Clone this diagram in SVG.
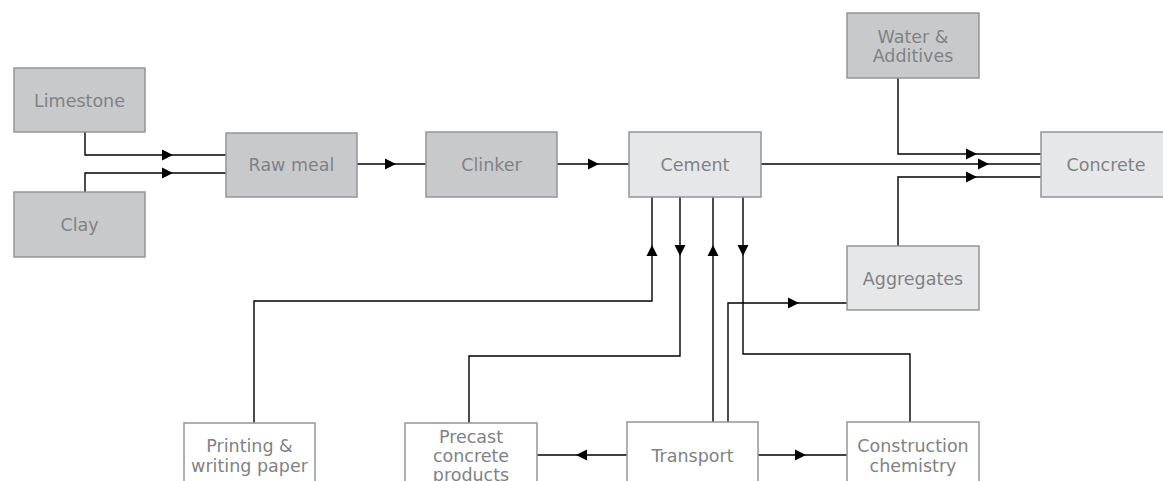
<svg xmlns="http://www.w3.org/2000/svg" xmlns:xlink="http://www.w3.org/1999/xlink" width="1163" height="481" viewBox="0 0 1163 481">
  <style>
    .box rect { stroke: #939598; stroke-width: 1.5; }
    .raw rect { fill: #c8c9cb; }
    .mid rect { fill: #e6e7e8; }
    .out rect { fill: #ffffff; }
    text { font-family: "DejaVu Sans", "Liberation Sans", sans-serif; font-size: 17.5px; fill: #808285; text-anchor: middle; }
    .wire { fill: none; stroke: #000; stroke-width: 1.4; }
    .head { fill: #000; }
  </style>
  <defs>
    <!-- arrowhead pointing right, tip at origin -->
    <path id="ah" class="head" d="M0,0 L-11,-5.5 L-11,5.5 Z"/>
  </defs>
  <rect width="1163" height="481" fill="#ffffff"/>

  <g id="connectors">
    <path class="wire" d="M85,132 V155 H226"/>
    <path class="wire" d="M85,192 V173 H226"/>
    <path class="wire" d="M357,164 H426"/>
    <path class="wire" d="M557,164 H629"/>
    <path class="wire" d="M761,164 H1041"/>
    <path class="wire" d="M898,78 V154 H1041"/>
    <path class="wire" d="M898,246 V177 H1041"/>
    <path class="wire" d="M254,423 V301 H652 V197"/>
    <path class="wire" d="M680,197 V356 H469 V423"/>
    <path class="wire" d="M713,422 V197"/>
    <path class="wire" d="M743,197 V354 H910 V422"/>
    <path class="wire" d="M728,422 V303 H847"/>
    <path class="wire" d="M627,455 H537"/>
    <path class="wire" d="M758,455 H847"/>
    <use xlink:href="#ah" transform="translate(173,155)"/>
    <use xlink:href="#ah" transform="translate(173,173)"/>
    <use xlink:href="#ah" transform="translate(396,164)"/>
    <use xlink:href="#ah" transform="translate(599,164)"/>
    <use xlink:href="#ah" transform="translate(989,164)"/>
    <use xlink:href="#ah" transform="translate(977,154)"/>
    <use xlink:href="#ah" transform="translate(977,177)"/>
    <use xlink:href="#ah" transform="translate(652,245) rotate(-90)"/>
    <use xlink:href="#ah" transform="translate(680,256) rotate(90)"/>
    <use xlink:href="#ah" transform="translate(713,245) rotate(-90)"/>
    <use xlink:href="#ah" transform="translate(743,256) rotate(90)"/>
    <use xlink:href="#ah" transform="translate(799,303)"/>
    <use xlink:href="#ah" transform="translate(576,455) rotate(180)"/>
    <use xlink:href="#ah" transform="translate(806,455)"/>
  </g>

  <g id="limestone" class="box raw">
    <rect x="14" y="68" width="131" height="64"/>
    <text x="79.5" y="106.5">Limestone</text>
  </g>
  <g id="clay" class="box raw">
    <rect x="14" y="192" width="131" height="65"/>
    <text x="79.5" y="231">Clay</text>
  </g>
  <g id="raw-meal" class="box raw">
    <rect x="226" y="133" width="131" height="64"/>
    <text x="291.5" y="171">Raw meal</text>
  </g>
  <g id="clinker" class="box raw">
    <rect x="426" y="132" width="131" height="65"/>
    <text x="491.5" y="171">Clinker</text>
  </g>
  <g id="cement" class="box mid">
    <rect x="629" y="132" width="132" height="65"/>
    <text x="695" y="171">Cement</text>
  </g>
  <g id="water-additives" class="box raw">
    <rect x="847" y="13" width="132" height="65"/>
    <text x="913" y="43">Water &amp;</text>
    <text x="913" y="62">Additives</text>
  </g>
  <g id="concrete" class="box mid">
    <rect x="1041" y="132" width="131" height="65"/>
    <text x="1106" y="171">Concrete</text>
  </g>
  <g id="aggregates" class="box mid">
    <rect x="847" y="246" width="132" height="64"/>
    <text x="913" y="285">Aggregates</text>
  </g>
  <g id="printing-paper" class="box out">
    <rect x="184" y="423" width="131" height="70"/>
    <text x="249.5" y="452">Printing &amp;</text>
    <text x="249.5" y="472">writing paper</text>
  </g>
  <g id="precast-products" class="box out">
    <rect x="405" y="423" width="132" height="70"/>
    <text x="471" y="443">Precast</text>
    <text x="471" y="462">concrete</text>
    <text x="471" y="481">products</text>
  </g>
  <g id="transport" class="box out">
    <rect x="627" y="422" width="131" height="70"/>
    <text x="692.5" y="462">Transport</text>
  </g>
  <g id="construction-chemistry" class="box out">
    <rect x="847" y="422" width="132" height="70"/>
    <text x="913" y="452">Construction</text>
    <text x="913" y="472">chemistry</text>
  </g>
</svg>
